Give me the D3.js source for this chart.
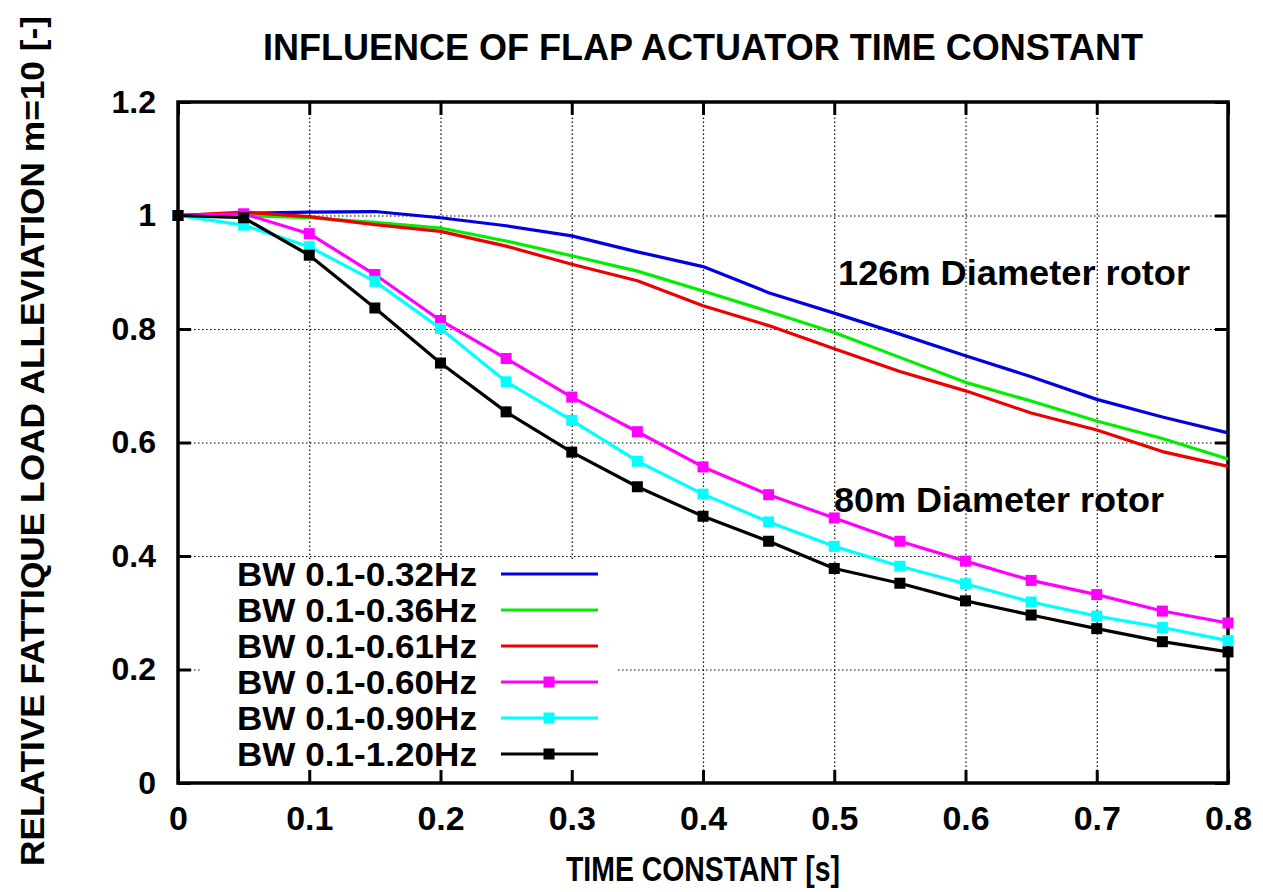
<!DOCTYPE html>
<html>
<head>
<meta charset="utf-8">
<script src="https://cdn.jsdelivr.net/npm/d3@7/dist/d3.min.js"></script>
<style>
  body { margin: 0; background: #fff; }
  text { font-family: "Liberation Sans", Arial, sans-serif; font-weight: bold; fill: #000; }
</style>
</head>
<body>
<svg id="chart" width="1263" height="892"></svg>
<script>
// time constant [s]
const timeConst = [0, 0.05, 0.1, 0.15, 0.2, 0.25, 0.3, 0.35, 0.4, 0.45, 0.5, 0.55, 0.6, 0.65, 0.7, 0.75, 0.8]

// 126m rotor
const bw032 = [1.0, 1.004, 1.006, 1.007, 0.996, 0.982, 0.964, 0.936, 0.910, 0.864, 0.828, 0.791, 0.753, 0.716, 0.676, 0.645, 0.617]
const bw036 = [1.0, 1.0, 0.996, 0.988, 0.978, 0.955, 0.929, 0.902, 0.867, 0.831, 0.794, 0.750, 0.706, 0.673, 0.638, 0.607, 0.571]
const bw061 = [1.0, 1.006, 0.998, 0.984, 0.972, 0.946, 0.914, 0.885, 0.841, 0.806, 0.765, 0.725, 0.691, 0.652, 0.622, 0.584, 0.558]
// 80m rotor
const bw060 = [1.0, 1.003, 0.968, 0.896, 0.815, 0.748, 0.680, 0.619, 0.557, 0.508, 0.467, 0.426, 0.391, 0.357, 0.332, 0.303, 0.282]
const bw090 = [1.0, 0.983, 0.945, 0.884, 0.801, 0.707, 0.639, 0.567, 0.509, 0.460, 0.417, 0.382, 0.351, 0.319, 0.294, 0.274, 0.251]
const bw120 = [1.0, 0.996, 0.930, 0.837, 0.740, 0.654, 0.583, 0.522, 0.470, 0.426, 0.378, 0.352, 0.321, 0.296, 0.272, 0.249, 0.231]

const seriesNames = ['BW 0.1-0.32Hz', 'BW 0.1-0.36Hz', 'BW 0.1-0.61Hz', 'BW 0.1-0.60Hz', 'BW 0.1-0.90Hz', 'BW 0.1-1.20Hz']
const seriesValues = [bw032, bw036, bw061, bw060, bw090, bw120]
const seriesColors = ['#0000e0', '#00ee00', '#ee0000', '#ff00ff', '#00ffff', '#000000']
const seriesMarkers = [false, false, false, true, true, true]

const xTicks = [0, 0.1, 0.2, 0.3, 0.4, 0.5, 0.6, 0.7, 0.8]
const yTicks = [0, 0.2, 0.4, 0.6, 0.8, 1, 1.2]

const svg = d3.select('#chart')
const plot = {left: 178, right: 1228, top: 102, bottom: 783}

const xScale = d3.scaleLinear().domain([0, 0.8]).range([plot.left, plot.right])
const yScale = d3.scaleLinear().domain([0, 1.2]).range([plot.bottom, plot.top])

// dotted grid
const grid = svg.append('g').attr('class', 'grid')
grid.append('g')
  .attr('transform', `translate(0, ${plot.bottom})`)
  .call(d3.axisBottom(xScale).tickValues(xTicks.slice(1, -1)).tickSize(-(plot.bottom - plot.top)).tickFormat(''))
grid.append('g')
  .attr('transform', `translate(${plot.left}, 0)`)
  .call(d3.axisLeft(yScale).tickValues(yTicks.slice(1, -1)).tickSize(-(plot.right - plot.left)).tickFormat(''))
grid.selectAll('.domain').remove()
grid.selectAll('line')
  .attr('stroke', '#000')
  .attr('stroke-width', 1.2)
  .attr('stroke-dasharray', '1.5,2.5')

// key box (opaque) hides the grid under it
svg.append('rect')
  .attr('x', 200).attr('y', 559)
  .attr('width', 417).attr('height', 213)
  .attr('fill', '#fff')

// axes with inward ticks
const fmt = d => d === 0 ? '0' : d === 1 ? '1' : d3.format('.1f')(d)
const axB = svg.append('g')
  .attr('transform', `translate(0, ${plot.bottom})`)
  .call(d3.axisBottom(xScale).tickValues(xTicks).tickSizeInner(-13).tickSizeOuter(0).tickPadding(23).tickFormat(fmt))
const axL = svg.append('g')
  .attr('transform', `translate(${plot.left}, 0)`)
  .call(d3.axisLeft(yScale).tickValues(yTicks).tickSizeInner(-13).tickSizeOuter(0).tickPadding(22).tickFormat(fmt))
const axT = svg.append('g')
  .attr('transform', `translate(0, ${plot.top})`)
  .call(d3.axisTop(xScale).tickValues(xTicks).tickSizeInner(-13).tickSizeOuter(0).tickFormat(''))
const axR = svg.append('g')
  .attr('transform', `translate(${plot.right}, 0)`)
  .call(d3.axisRight(yScale).tickValues(yTicks).tickSizeInner(-13).tickSizeOuter(0).tickFormat(''))

;[axB, axL, axT, axR].forEach(ax => {
  ax.select('.domain').remove()
  ax.selectAll('line').attr('stroke', '#000').attr('stroke-width', 3)
})
axB.selectAll('text').attr('font-size', 34).attr('font-family', '"Liberation Sans", Arial, sans-serif')
axL.selectAll('text').attr('font-size', 32).attr('font-family', '"Liberation Sans", Arial, sans-serif')

// frame
svg.append('rect')
  .attr('x', plot.left).attr('y', plot.top)
  .attr('width', plot.right - plot.left).attr('height', plot.bottom - plot.top)
  .attr('fill', 'none')
  .attr('stroke', '#000')
  .attr('stroke-width', 3.5)

// data
const line = d3.line()
  .x((d, i) => xScale(timeConst[i]))
  .y(d => yScale(d))

const ms = 11
seriesValues.forEach((vals, k) => {
  svg.append('path')
    .datum(vals)
    .attr('fill', 'none')
    .attr('stroke', seriesColors[k])
    .attr('stroke-width', 3.2)
    .attr('stroke-linejoin', 'round')
    .attr('d', line)
  if (seriesMarkers[k]) {
    svg.append('g').selectAll('rect')
      .data(vals)
      .join('rect')
      .attr('x', (d, i) => xScale(timeConst[i]) - ms / 2)
      .attr('y', d => yScale(d) - ms / 2)
      .attr('width', ms).attr('height', ms)
      .attr('fill', seriesColors[k])
  }
})

// key
const key = svg.append('g')
seriesNames.forEach((name, k) => {
  const cy = 574 + k * 36
  key.append('text')
    .attr('x', 477).attr('y', cy + 12)
    .attr('text-anchor', 'end')
    .attr('font-size', 33)
    .attr('textLength', 240).attr('lengthAdjust', 'spacingAndGlyphs')
    .text(name)
  key.append('line')
    .attr('x1', 501).attr('x2', 598)
    .attr('y1', cy).attr('y2', cy)
    .attr('stroke', seriesColors[k])
    .attr('stroke-width', 3.2)
  if (seriesMarkers[k]) {
    key.append('rect')
      .attr('x', 549 - ms / 2).attr('y', cy - ms / 2)
      .attr('width', ms).attr('height', ms)
      .attr('fill', seriesColors[k])
  }
})

// annotations
svg.append('text')
  .attr('x', 838).attr('y', 285)
  .attr('font-size', 35)
  .attr('textLength', 352).attr('lengthAdjust', 'spacingAndGlyphs')
  .text('126m Diameter rotor')
svg.append('text')
  .attr('x', 834).attr('y', 512)
  .attr('font-size', 35)
  .attr('textLength', 330).attr('lengthAdjust', 'spacingAndGlyphs')
  .text('80m Diameter rotor')

// titles
svg.append('text')
  .attr('x', 703).attr('y', 60)
  .attr('text-anchor', 'middle')
  .attr('font-size', 36)
  .attr('textLength', 880).attr('lengthAdjust', 'spacingAndGlyphs')
  .text('INFLUENCE OF FLAP ACTUATOR TIME CONSTANT')
svg.append('text')
  .attr('x', 703).attr('y', 881)
  .attr('text-anchor', 'middle')
  .attr('font-size', 35)
  .attr('textLength', 274).attr('lengthAdjust', 'spacingAndGlyphs')
  .text('TIME CONSTANT [s]')
svg.append('text')
  .attr('transform', 'translate(44, 441) rotate(-90)')
  .attr('text-anchor', 'middle')
  .attr('font-size', 34)
  .attr('textLength', 850).attr('lengthAdjust', 'spacingAndGlyphs')
  .text('RELATIVE FATTIQUE LOAD ALLEVIATION m=10 [-]')
</script>
</body>
</html>
